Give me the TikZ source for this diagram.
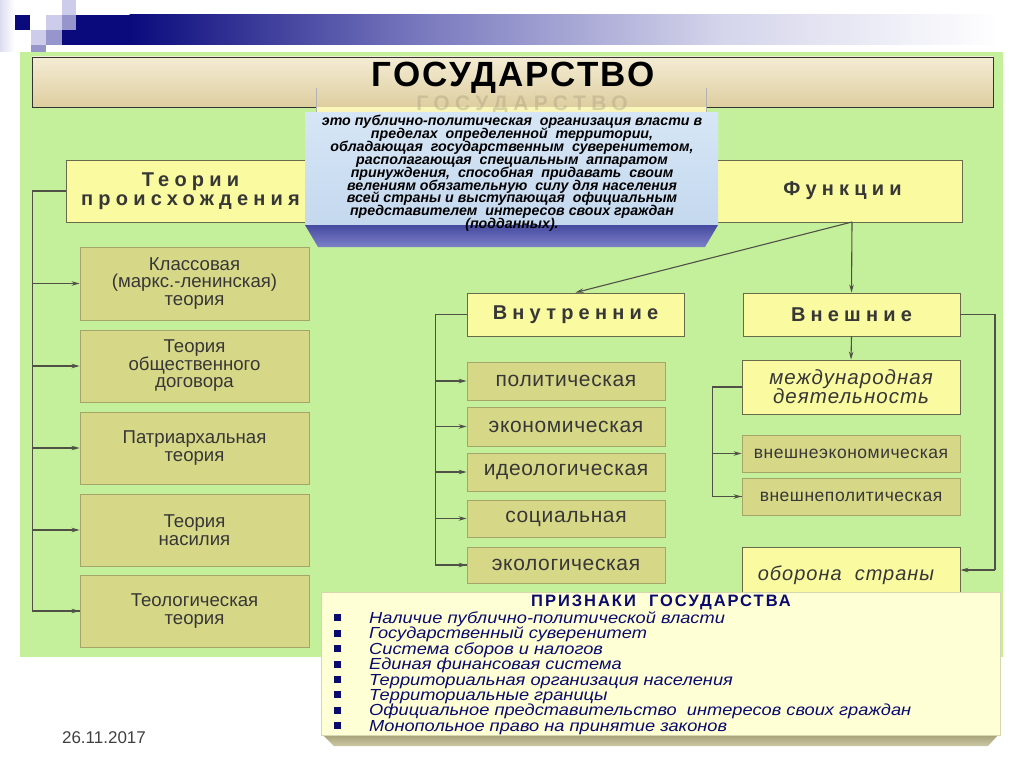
\documentclass[tikz,border=0pt]{standalone}
\usepackage{fontspec}
\setmainfont{Liberation Sans}
\newfontfamily\spacedfont[LetterSpace=26]{Liberation Sans}
\newfontfamily\midspaced[LetterSpace=5]{Liberation Sans}
\newfontfamily\smallspaced[LetterSpace=3]{Liberation Sans}
\newfontfamily\titlespaced[LetterSpace=6]{Liberation Sans}
\newfontfamily\signspaced[LetterSpace=12]{Liberation Sans}
\newfontfamily\signfont[FakeStretch=1.14]{Liberation Sans}
\usetikzlibrary{arrows.meta}
\newcommand{\tightlines}{\lineskiplimit -50pt\relax}
\definecolor{bggreen}{RGB}{196,240,156}
\definecolor{hdryellow}{RGB}{250,250,160}
\definecolor{hdrline}{RGB}{105,105,75}
\definecolor{subolive}{RGB}{214,216,136}
\definecolor{subline}{RGB}{165,165,105}
\definecolor{txtgray}{RGB}{55,55,55}
\definecolor{linegray}{RGB}{80,80,70}
\definecolor{mynavy}{RGB}{10,10,125}
\definecolor{barmid}{RGB}{120,120,190}
\definecolor{barlight}{RGB}{212,212,235}
\definecolor{lavA}{RGB}{205,205,235}
\definecolor{lavB}{RGB}{150,150,205}
\definecolor{deftop}{RGB}{214,230,246}
\definecolor{defbot}{RGB}{196,216,238}
\definecolor{beveltop}{RGB}{70,74,160}
\definecolor{bevelbot}{RGB}{125,128,200}
\definecolor{cream}{RGB}{255,255,214}
\definecolor{creamline}{RGB}{215,215,175}
\definecolor{olivebevtop}{RGB}{160,156,112}
\definecolor{olivebevbot}{RGB}{205,200,165}
\definecolor{titletop}{RGB}{244,236,212}
\definecolor{titlebot}{RGB}{222,206,160}
\definecolor{ghostyel}{RGB}{250,246,185}
\definecolor{ghosttxt}{RGB}{175,165,130}
\definecolor{signnavy}{RGB}{10,10,110}
\tikzset{
  hdr/.style={draw=hdrline, fill=hdryellow, line width=0.9pt, inner sep=0pt,
    text=txtgray, align=center, font=\spacedfont\bfseries\fontsize{20}{19.5}\selectfont\tightlines},
  hdrit/.style={draw=hdrline, fill=hdryellow, line width=0.9pt, inner sep=0pt,
    text=txtgray, align=center, font=\midspaced\itshape\fontsize{20.5}{19}\selectfont\tightlines},
  subbox/.style={draw=subline, fill=subolive, line width=0.8pt, inner sep=0pt,
    text=txtgray, align=center, font=\fontsize{18.6}{17.5}\selectfont\tightlines},
  fnbox/.style={subbox, font=\smallspaced\fontsize{21}{20}\selectfont},
  extbox/.style={subbox, font=\smallspaced\fontsize{17.5}{17.5}\selectfont},
  arr/.style={draw=linegray, line width=1.1pt, -{Stealth[length=8pt,width=4.5pt]}},
  ln/.style={draw=linegray, line width=1.1pt},
  bul/.style={fill=signnavy, minimum size=7pt, inner sep=0pt},
}
\begin{document}
\begin{tikzpicture}[x=1pt,y=-1pt]
\useasboundingbox (0,0) rectangle (1024,768);
\fill[white] (0,0) rectangle (1024,768);
% top-left decoration
\shade[left color=lavA!70, right color=white] (0,0) rectangle (14,52);
\fill[lavA] (62,0) rectangle (76,15);
\fill[mynavy] (15,15) rectangle (30,30);
\fill[lavA] (46,15) rectangle (62,30);
\fill[lavB] (62,15) rectangle (76,30);
\fill[lavA] (31,30) rectangle (46,45);
\fill[lavB] (46,30) rectangle (62,45);
\fill[lavB] (31,45) rectangle (46,52);
\fill[mynavy] (76,15) rectangle (130,45);
\fill[mynavy] (62,30) rectangle (76,45);
\shade[left color=mynavy, right color=barmid] (129.5,15) rectangle (420,45);
\shade[left color=barmid, right color=barlight] (419.5,15) rectangle (720,45);
\shade[left color=barlight, right color=white] (719.5,15) rectangle (1000,45);
% green background
\fill[bggreen] (20,52) rectangle (1003,657);
% title
\node[draw=black!80, line width=0.8pt, top color=titletop, bottom color=titlebot,
  minimum width=961pt, minimum height=50pt, inner sep=0pt] (title) at (512.5,82) {};
\fill[ghostyel] (316,107) rectangle (706,112);
\draw[black!30, line width=0.6pt] (316,88) -- (316,112) (706,88) -- (706,112);
\node[text=ghosttxt, opacity=0.45, inner sep=0pt, font=\spacedfont\bfseries\fontsize{21}{21}\selectfont]
  (ghost) at (522,105.5) {ГОСУДАРСТВО};
\node[font=\titlespaced\bfseries\fontsize{35}{36}\selectfont, text=black, inner sep=0pt]
  (titletxt) at (513,78) {ГОСУДАРСТВО};
% header boxes
\node[hdr, minimum width=249pt, minimum height=62pt] (tp) at (190.5,191) {Теории\\происхождения};
\node[hdr, minimum width=247pt, minimum height=62pt] (fn) at (838.5,191) {\hspace*{8pt}Функции};
% definition box
\shade[top color=deftop, bottom color=defbot] (305,112) rectangle (718,226);
\shade[top color=beveltop, bottom color=bevelbot] (305,225) -- (718,225) -- (705,247) -- (318,247) -- cycle;
\node[align=center, inner sep=0pt, text=black,
  font=\bfseries\itshape\fontsize{14.2}{12.85}\selectfont\tightlines] (def) at (512,173.5)
  {это публично-политическая\ \ организация власти в\\
   пределах\ \ определенной\ \ территории,\\
   обладающая\ \ государственным\ \ суверенитетом,\\
   располагающая\ \ специальным\ \ аппаратом\\
   принуждения,\ \ способная\ \ придавать\ \ своим\\
   велениям обязательную\ \ силу для населения\\
   всей страны и выступающая\ \ официальным\\
   представителем\ \ интересов своих граждан\\
   (подданных).};
% theories
\node[subbox, minimum width=229pt, minimum height=73pt] (k1) at (194.5,283.5) {Классовая\\(маркс.-ленинская)\\теория};
\node[subbox, minimum width=229pt, minimum height=72pt] (k2) at (194.5,366) {Теория\\общественного\\договора};
\node[subbox, minimum width=229pt, minimum height=72pt] (k3) at (194.5,448) {Патриархальная\\теория};
\node[subbox, minimum width=229pt, minimum height=72pt] (k4) at (194.5,530) {Теория\\насилия};
\node[subbox, minimum width=229pt, minimum height=72pt] (k5) at (194.5,611) {Теологическая\\теория};
\draw[ln] (tp.west) -- ++(-33,0) |- (k5.west);
\draw[arr] (33,611) -- (k5.west);
\foreach \k in {k1,k2,k3,k4} \draw[arr] ([xshift=-47pt]\k.west) -- (\k.west);
% functions
\node[hdr, minimum width=217pt, minimum height=43pt] (vn) at (575.5,314.5) {Внутренние};
\node[hdr, minimum width=217pt, minimum height=43pt] (ve) at (851.5,314.5) {Внешние};
\coordinate (fnout) at (852,222);
\draw[arr] (fnout) -- (vn.north);
\draw[arr] (fnout) -- (ve.north);
% internal
\node[fnbox, minimum width=198pt, minimum height=38pt] (i1) at (566,381) {политическая};
\node[fnbox, minimum width=198pt, minimum height=39pt] (i2) at (566,426.5) {экономическая};
\node[fnbox, minimum width=198pt, minimum height=38pt] (i3) at (566,472) {идеологическая};
\node[fnbox, minimum width=198pt, minimum height=37pt] (i4) at (566,518.5) {социальная};
\node[fnbox, minimum width=198pt, minimum height=36pt] (i5) at (566,565) {экологическая};
\draw[ln] (vn.west) -- ++(-31,0) |- (i5.west);
\draw[arr] ([xshift=-31pt]i5.west) -- (i5.west);
\foreach \k in {i1,i2,i3,i4} \draw[arr] ([xshift=-31pt]\k.west) -- (\k.west);
% external
\node[hdrit, minimum width=218pt, minimum height=54pt] (md) at (851,387) {международная\\деятельность};
\draw[arr] (ve.south) -- (md.north);
\node[extbox, minimum width=218pt, minimum height=37pt] (e1) at (851,453.5) {внешнеэкономическая};
\node[extbox, minimum width=218pt, minimum height=37pt] (e2) at (851,496.5) {внешнеполитическая};
\draw[ln] (md.west) -- ++(-29,0) |- (e2.west);
\draw[arr] ([xshift=-29pt]e2.west) -- (e2.west);
\draw[arr] ([xshift=-29pt]e1.west) -- (e1.west);
\node[hdrit, minimum width=218pt, minimum height=58pt] (ob) at (851,576) {};
\node[text=txtgray, font=\midspaced\itshape\fontsize{20}{19}\selectfont] (obtxt) at (846,575) {оборона\ \ страны};
\coordinate (R) at (995,570);
\draw[ln] (ve.east) -| (R);
\draw[arr] (R) -- (R -| ob.east);
% signs box
\shade[top color=olivebevtop, bottom color=olivebevbot] (321,733) -- (1000,733) -- (988,746) -- (334,746) -- cycle;
\node[draw=creamline, line width=0.6pt, fill=cream, minimum width=679pt, minimum height=143pt, inner sep=0pt] (signs) at (660.5,663.5) {};
\node[text=signnavy, inner sep=0pt, font=\signspaced\bfseries\fontsize{16.5}{16}\selectfont] (signtitle) at (661,602) {ПРИЗНАКИ\ \ ГОСУДАРСТВА};
\foreach \i in {1,...,8} \node[bul] (q\i) at (337,602.5+15.4*\i) {};
\node[anchor=north west, inner sep=0pt, align=left, text=signnavy,
  font=\signfont\itshape\fontsize{16}{15.4}\selectfont\tightlines] (signlist) at (369,611.5)
  {Наличие публично-политической власти\\
   Государственный суверенитет\\
   Система сборов и налогов\\
   Единая финансовая система\\
   Территориальная организация населения\\
   Территориальные границы\\
   Официальное представительство\ \ интересов своих граждан\\
   Монопольное право на принятие законов};
% date
\node[text=black!75, font=\fontsize{17}{17}\selectfont] (date) at (104,738) {26.11.2017};
\end{tikzpicture}
\end{document}
